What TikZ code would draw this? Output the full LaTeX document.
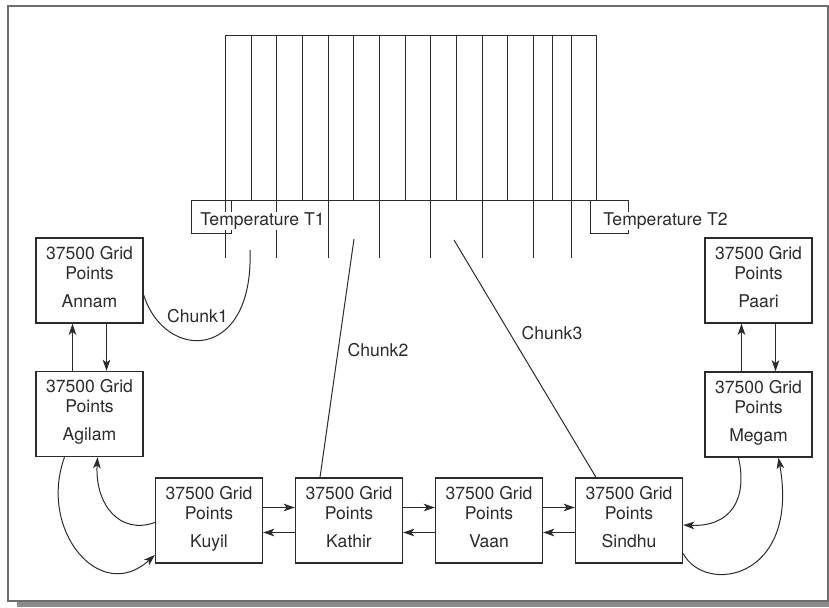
\documentclass[tikz,border=0pt]{standalone}
\usepackage{fontspec}
\setmainfont{TeX Gyre Heros}
\usetikzlibrary{arrows.meta,calc}
\definecolor{ink}{HTML}{2B2B2B}
\definecolor{framegray}{HTML}{6E6E6E}
\definecolor{shadowgray}{HTML}{8C8C8C}
% three-line caption of a processor block
\newcommand\gridtext[1]{37500 Grid\\Points\\[6.8pt]#1\rule[-6.5pt]{0pt}{1pt}}
\begin{document}
\begin{tikzpicture}[x=0.03cm,y=-0.03cm,
  font=\fontsize{15}{17}\selectfont,
  gridbox/.style={draw=ink, line width=1.2pt, minimum width=3.21cm,
    minimum height=2.55cm, align=center, inner sep=0pt, text=ink},
  link/.style={draw=ink, line width=0.85pt},
  arr/.style={link, -{Stealth[length=9.5pt,width=6.5pt,inset=2.5pt]}},
  chunklabel/.style={text=ink, inner sep=0pt},
  templabel/.style={fill=white, inner sep=1pt, text=ink, anchor=west},
]
\useasboundingbox (0,0) rectangle (829,607);

% outer frame with its shadow
\fill[shadowgray] (17,602) rectangle (829,607);
\draw[framegray, line width=1.6pt] (8,6) rectangle (828,601);

% the plate: top and bottom edges and its strips
\draw[link] (225,35) -- (596.7,35);
\draw[link] (191.7,200) -- (596.7,200);
\foreach \x in {225,251,276.7,302.3,328,353.7,379.3,405.3,430.7,456.3,482,507.3,533.3,552.3,571.7,596.7}
  \draw[link] (\x,35) -- (\x,200);
\foreach \x in {225,276.7,328,379.3,430.7,482,533.3,571.7}
  \draw[link] (\x,200) -- (\x,258);

% boundary temperatures
\draw[link] (191.7,200) rectangle (231.7,233.3);
\node[templabel] (t1) at (199,221) {Temperature T1};
\draw[link] (590,200) rectangle (628.3,233.3);
\node[templabel] (t2) at (602,221) {Temperature T2};

% processor blocks
\node[gridbox] (annam)  at (89.5,280.5) {\gridtext{Annam}};
\node[gridbox] (agilam) at (89.5,414)   {\gridtext{Agilam}};
\node[gridbox] (kuyil)  at (209,520.5)  {\gridtext{Kuyil}};
\node[gridbox] (kathir) at (349,520.5)  {\gridtext{Kathir}};
\node[gridbox] (vaan)   at (489,520.5)  {\gridtext{Vaan}};
\node[gridbox] (sindhu) at (629,520.5)  {\gridtext{Sindhu}};
\node[gridbox] (megam)  at (758.5,414.5){\gridtext{Megam}};
\node[gridbox] (paari)  at (758.5,280.5){\gridtext{Paari}};

% vertical exchanges
\draw[arr] ($(agilam.north)+(-17,0)$) -- ($(annam.south)+(-17,0)$);
\draw[arr] ($(annam.south)+(17,0)$) -- ($(agilam.north)+(17,0)$);
\draw[arr] ($(megam.north)+(-17,0)$) -- ($(paari.south)+(-17,0)$);
\draw[arr] ($(paari.south)+(17,0)$) -- ($(megam.north)+(17,0)$);

% horizontal exchanges along the bottom row
\foreach \a/\b in {kuyil/kathir,kathir/vaan,vaan/sindhu}{
  \draw[arr] ($(\a.east)+(0,-13)$) -- ($(\b.west)+(0,-13)$);
  \draw[arr] ($(\b.west)+(0,12)$) -- ($(\a.east)+(0,12)$);
}

% curved exchanges at the corners
\draw[arr] ($(kuyil.west)+(0,2)$) .. controls (120,535) and (95,505) .. ($(agilam.south)+(8,0)$);
\draw[arr] ($(agilam.south)+(-25,0)$) .. controls (38,530) and (100,605) .. ($(kuyil.west)+(0,34.5)$);
\draw[arr] ($(megam.south)+(-20,0)$) .. controls (748,500) and (730,527) .. ($(sindhu.east)+(0,4.5)$);
\draw[arr] ($(sindhu.east)+(0,33)$) .. controls (705,595) and (800,580) .. ($(megam.south)+(20,0)$);

% chunk assignments
\coordinate (c1) at (250,250);
\coordinate (c2) at (354,239);
\coordinate (c3) at (454,240);
\draw[link] ($(annam.east)+(0,14.5)$) .. controls (165,362) and (254,362) .. (c1);
\draw[link] (c2) -- ($(kathir.north)+(-29,0)$);
\draw[link] (c3) -- ($(sindhu.north)+(-33,0)$);
\node[chunklabel] (ch1) at (197.5,316) {Chunk1};
\node[chunklabel] (ch2) at (378,350) {Chunk2};
\node[chunklabel] (ch3) at (552,333) {Chunk3};
\end{tikzpicture}
\end{document}
